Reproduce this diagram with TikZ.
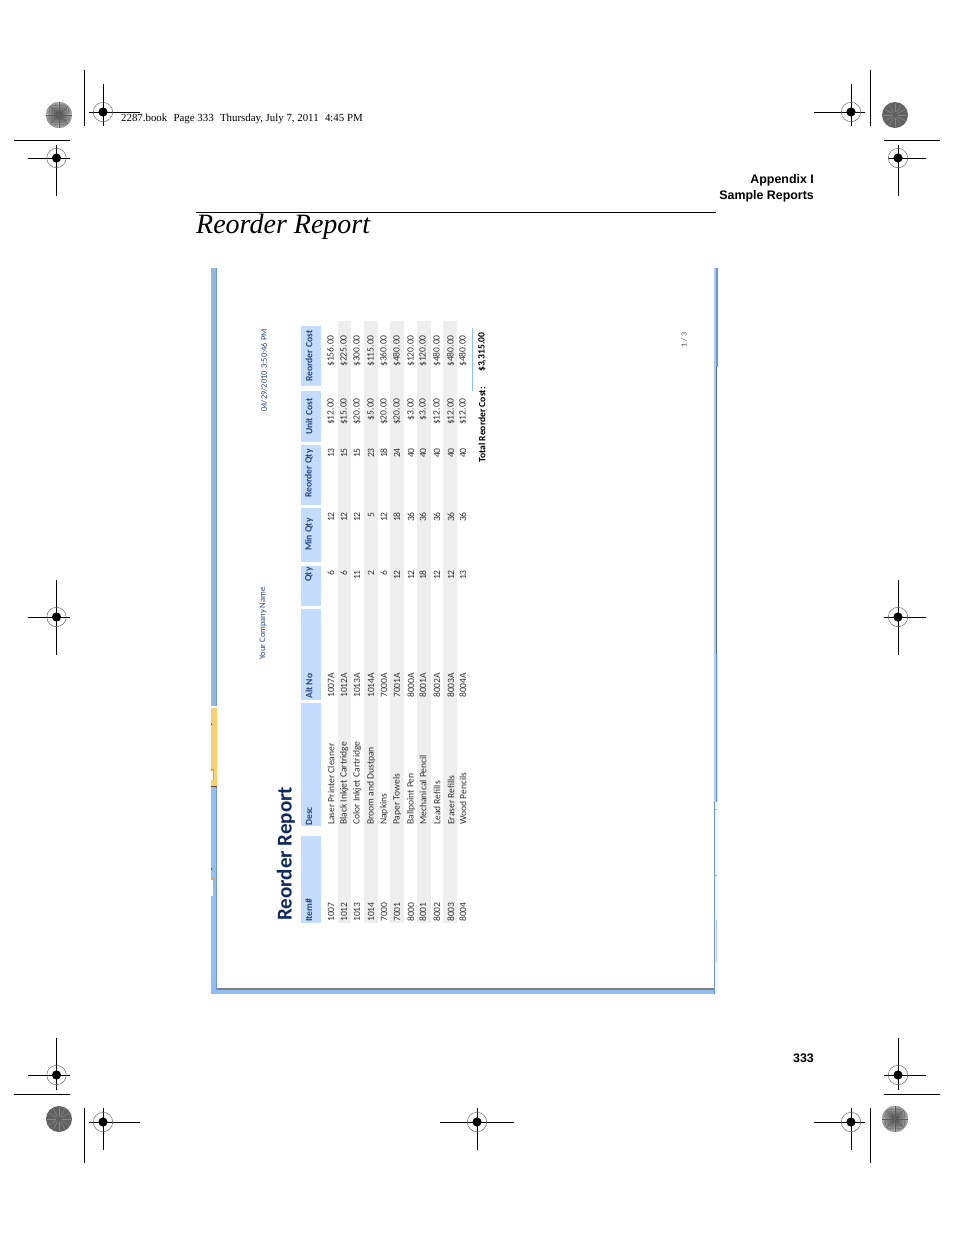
\documentclass[tikz,border=0pt]{standalone}
\usepackage{fontspec}
\setmainfont{Liberation Serif}
\newfontfamily\headsans{Liberation Sans}
\newfontfamily\repsans{Carlito}
\definecolor{hdrblue}{RGB}{196,221,254}
\definecolor{hdrtext}{RGB}{40,70,130}
\definecolor{rowgray}{RGB}{238,238,238}
\definecolor{edgeblue}{RGB}{147,190,245}
\definecolor{edgemid}{RGB}{150,182,226}
\definecolor{edgedark}{RGB}{112,150,208}
\definecolor{tabyellow}{RGB}{252,208,110}
\definecolor{taborange}{RGB}{240,160,50}
\definecolor{titlenavy}{RGB}{15,40,95}
\tikzset{
  x=1pt,y=-1pt,
  cropline/.style={black,line width=0.8pt},
  cell/.style={rotate=90,inner sep=0pt,text=black!80,font=\repsans\fontsize{9.6}{10}\selectfont},
  cellstart/.style={cell,anchor=west},
  cellend/.style={cell,anchor=east},
  hdrlabel/.style={cell,anchor=west,text=hdrtext,font=\repsans\bfseries\fontsize{9.6}{10}\selectfont},
  totlabel/.style={rotate=90,anchor=west,inner sep=0pt,font=\repsans\bfseries\fontsize{9.6}{10}\selectfont},
  sidehead/.style={anchor=east,inner sep=0pt,font=\headsans\bfseries\fontsize{12.4}{14}\selectfont},
}
% registration mark
\newcommand{\regmark}[2]{%
  \draw[black!60,line width=0.5pt] (#1,#2) circle[radius=9.7];
  \fill[black] (#1,#2) circle[radius=4.6];
}
% radial target
\newcommand{\starmark}[2]{%
  \fill[black!22] (#1,#2) circle[radius=13];
  \foreach \ang in {0,5,...,355}
    \draw[black!65,line width=0.4pt] (#1,#2) ++(\ang:1.5) -- ++(\ang:11.5);
  \fill[black] (#1,#2) circle[radius=0.8];
}
% dark target
\newcommand{\darkmark}[2]{%
  \fill[black!62] (#1,#2) circle[radius=13];
  \foreach \ang in {0,30,...,330}
    \draw[black!48,line width=0.6pt] (#1,#2) ++(\ang:3) -- ++(\ang:9);
}
\begin{document}
\begin{tikzpicture}
\useasboundingbox[fill=white] (0,0) rectangle (954,1235);
% crop marks
\draw[cropline] (84.5,70) -- (84.5,126) (14,140) -- (70,140) (870,70) -- (870,126) (884,140) -- (940,140);
\draw[cropline] (84.5,1108) -- (84.5,1163) (14,1094) -- (70,1094) (870,1108) -- (870,1163) (884,1094) -- (940,1094);
\draw[cropline] (103,84) -- (103,126) (89,112) -- (140,112);
\draw[cropline] (56.5,145) -- (56.5,196) (28,158) -- (70,158);
\draw[cropline] (851,84) -- (851,126) (814,112) -- (865,112);
\draw[cropline] (898,145) -- (898,196) (888,158) -- (926,158);
\draw[cropline] (56.5,580) -- (56.5,655) (28,617) -- (70,617);
\draw[cropline] (898,580) -- (898,655) (884,617) -- (926,617);
\draw[cropline] (56.5,1038) -- (56.5,1090) (28,1075) -- (70,1075);
\draw[cropline] (898,1038) -- (898,1090) (884,1075) -- (926,1075);
\draw[cropline] (103,1108) -- (103,1150) (89,1122) -- (140,1122);
\draw[cropline] (477,1108) -- (477,1150) (440,1122) -- (514,1122);
\draw[cropline] (851,1108) -- (851,1150) (814,1122) -- (865,1122);
\regmark{103}{112}\regmark{56.5}{158}\regmark{851}{112}\regmark{898}{158}
\regmark{56.5}{617}\regmark{898}{617}\regmark{56.5}{1075}\regmark{898}{1075}
\regmark{103}{1122}\regmark{477}{1122}\regmark{851}{1122}
\starmark{59}{115}\darkmark{895}{115}
\darkmark{59}{1119}\starmark{895}{1119}
% page head
\node[anchor=base west,inner sep=0pt,font=\fontsize{10.85}{12}\selectfont] (stamp) at (121,121) {2287.book\,\, Page 333\,\, Thursday, July 7, 2011\,\, 4:45 PM};
\node[sidehead] (appx) at (814,180) {Appendix I};
\node[sidehead] (samp) at (814,196) {Sample Reports};
\draw[black,line width=0.8pt] (196,212.5) -- (716,212.5);
\node[anchor=base west,inner sep=0pt,font=\itshape\fontsize{28}{32}\selectfont] (heading) at (196,233) {Reorder Report};
\node[sidehead] (pagenum) at (814,1058) {333};
% screenshot frame, left
\fill[edgemid] (211,268) rectangle (217,706);
\fill[edgedark] (216,268) rectangle (217,706);
\fill[tabyellow] (211,708) rectangle (217,786);
\fill[edgeblue] (211,786) rectangle (217,994);
\fill[edgedark] (216,786) rectangle (217,990);
\fill[black!55!taborange] (211,785.5) rectangle (217,786.5);
\fill[taborange] (211,769) rectangle (213.6,780);
\fill[white] (211,771) rectangle (213,780);
\fill[taborange] (212,878) rectangle (214,890);
\fill[white] (211,880) rectangle (213,896);
\fill[black] (211,723.5) rectangle (212,724.5) (211,868.5) rectangle (212,869.5);
% screenshot frame, bottom
\fill[edgeblue] (217,989) rectangle (715,994);
\fill[black!50] (217,988) rectangle (715,990);
% screenshot frame, right
\fill[edgemid!75!white] (714,268) rectangle (716,802);
\fill[edgedark] (716,268) rectangle (718,367);
\fill[edgedark!70!black] (716,367) rectangle (716.8,654);
\fill[edgedark] (716,654) rectangle (717,802);
\fill[edgemid!35!white] (717,654) rectangle (718,802);
\fill[edgeblue!12] (715,802) rectangle (718,994);
\draw[edgedark,line width=0.8pt] (714.5,802) -- (714.5,994);
\draw[edgeblue,line width=0.5pt] (714.5,809) -- (717,809) (714.5,875) -- (717,875);
\draw[edgedark!45,line width=0.5pt] (717,920) -- (716,920) -- (716,961) -- (717,961);
% band rows
\foreach \rowx in {337.5,364,390,417,443}
  \fill[rowgray] (\rowx,321) rectangle +(13.5,602);
% header cells
\foreach \ya/\yb in {326/386,391/442,445/505,508/562,566/606,609/700,703/826,836/923}
  \fill[hdrblue] (301,\ya) rectangle (321,\yb);
\foreach \yb/\name in {382/Reorder Cost,435/Unit Cost,498/Reorder Qty,551/Min Qty,582/Qty,699/Alt No,826/Desc,922/Item\#}
  \node[hdrlabel] at (309,\yb) {\name};
% report head
\node[rotate=90,anchor=west,inner sep=0pt,text=titlenavy,font=\repsans\bfseries\fontsize{21}{24}\selectfont] (reptitle) at (286,921) {Reorder Report};
\node[rotate=90,anchor=west,inner sep=0pt,text=hdrtext,font=\repsans\fontsize{8.5}{10}\selectfont] (company) at (263,660) {Your Company Name};
\node[rotate=90,anchor=west,inner sep=0pt,text=hdrtext,font=\repsans\fontsize{8.5}{10}\selectfont] (stampdate) at (264,412) {04/29/2010 3:50:46 PM};
% table rows
\foreach \rowx/\item/\desc/\alt/\qty/\mqty/\rqty/\ucost/\rcost in {
  331/1007/Laser Printer Cleaner/1007A/6/12/13/\$12.00/\$156.00,
  344/1012/Black Inkjet Cartridge/1012A/6/12/15/\$15.00/\$225.00,
  357/1013/Color Inkjet Cartridge/1013A/11/12/15/\$20.00/\$300.00,
  371/1014/Broom and Dustpan/1014A/2/5/23/\$5.00/\$115.00,
  384/7000/Napkins/7000A/6/12/18/\$20.00/\$360.00,
  397/7001/Paper Towels/7001A/12/18/24/\$20.00/\$480.00,
  411/8000/Ballpoint Pen/8000A/12/36/40/\$3.00/\$120.00,
  423/8001/Mechanical Pencil/8001A/18/36/40/\$3.00/\$120.00,
  437/8002/Lead Refills/8002A/12/36/40/\$12.00/\$480.00,
  451/8003/Eraser Refills/8003A/12/36/40/\$12.00/\$480.00,
  463/8004/Wood Pencils/8004A/13/36/40/\$12.00/\$480.00}
{
  \node[cellstart] at (\rowx,922) {\item};
  \node[cellstart] at (\rowx,825) {\desc};
  \node[cellstart] at (\rowx,698) {\alt};
  \node[cellend] at (\rowx,570) {\qty};
  \node[cellend] at (\rowx,512) {\mqty};
  \node[cellend] at (\rowx,448) {\rqty};
  \node[cellend] at (\rowx,398) {\ucost};
  \node[cellend] at (\rowx,335) {\rcost};
}
% totals
\draw[edgeblue,line width=0.8pt] (472,328) -- (472,391);
\node[totlabel] (totname) at (482,463) {Total Reorder Cost:};
\node[totlabel] (totvalue) at (482,372) {\$3,315.00};
\node[rotate=90,inner sep=0pt,text=black!70,font=\repsans\fontsize{8}{10}\selectfont] (pgof) at (684,340) {1 / 3};
\end{tikzpicture}
\end{document}
